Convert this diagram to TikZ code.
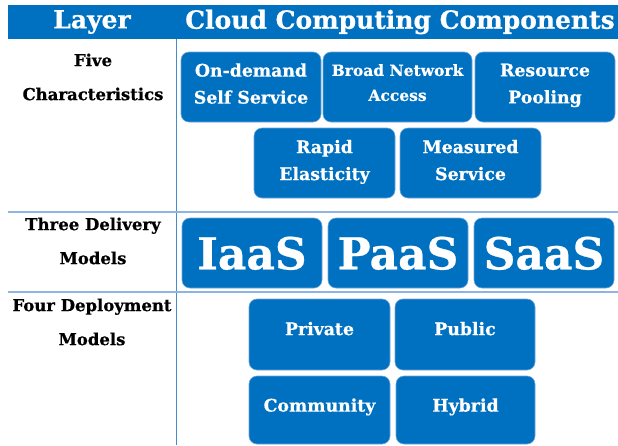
\documentclass[tikz,border=0pt]{standalone}
\usepackage{fontspec}
\setmainfont[BoldFeatures={FakeBold=0.6}]{DejaVu Serif}
\usepackage{tikz}
\usetikzlibrary{positioning}
\definecolor{cloudblue}{RGB}{0,112,192}
\definecolor{rimblue}{RGB}{110,165,220}
\definecolor{rowline}{RGB}{141,180,226}
\definecolor{colline}{RGB}{70,140,205}

\begin{document}
\begin{tikzpicture}[
x=1pt, y=-1pt,
font=\bfseries,
comp/.style={draw=rimblue,line width=0.6pt,fill=cloudblue,rounded corners=8pt,
  text=white,align=center,inner sep=0pt,minimum width=140pt,minimum height=70pt,
  text depth=6pt,font=\bfseries\fontsize{17.3}{27}\selectfont},
model/.style={comp,text depth=0pt,font=\bfseries\fontsize{44}{44}\selectfont},
layer/.style={align=center,font=\bfseries\fontsize{16.5}{34}\selectfont},
head/.style={text=white,font=\bfseries\fontsize{25}{25}\selectfont}]
    \useasboundingbox (0,0) rectangle (618,445);
    % Draw header bar
    \fill[cloudblue] (8,5) rectangle (618,39);
    \node[head] (layerhead) at (92,22) {Layer};
    \node[head] (comphead) at (400,22) {Cloud Computing Components};

    % Draw table rules
    \coordinate (colTop) at (176,39);
    \coordinate (colBot) at (176,445);
    \draw[colline,line width=1pt] (colTop) -- (colBot);
    \draw[rowline,line width=2pt] (8,212) -- (618,212);
    \draw[rowline,line width=2pt] (8,292) -- (618,292);

    % Layers
    \node[layer] (five) at (93,77) {Five\\Characteristics};
    \node[layer] (three) at (93,241) {Three Delivery\\Models};
    \node[layer] (four) at (92,322) {Four Deployment\\Models};

    % Five characteristics
    \node[comp,text depth=7pt] (ondemand) at (251,87) {On-demand\\Self Service};
    \node[comp,minimum width=149pt,text depth=9pt,
      font=\bfseries\fontsize{15.5}{25}\selectfont] (broad) at (397.5,87) {Broad Network\\Access};
    \node[comp,text depth=7pt] (pooling) at (545,87) {Resource\\Pooling};
    \node[comp,minimum width=141pt] (rapid) at (324.5,163) {Rapid\\Elasticity};
    \node[comp,minimum width=141pt] (measured) at (470.5,163) {Measured\\Service};

    % Three delivery models
    \node[model] (iaas) at (252,253) {IaaS};
    \node[model] (paas) at (398,253) {PaaS};
    \node[model] (saas) at (544,253) {SaaS};

    % Four deployment models
    \node[comp,minimum width=141pt,minimum height=71pt,text depth=12pt] (private) at (319.5,334.5) {Private};
    \node[comp,minimum height=71pt,text depth=12pt] (public) at (465,334.5) {Public};
    \node[comp,minimum width=141pt,minimum height=68pt,text depth=10pt] (community) at (319.5,410) {Community};
    \node[comp,minimum width=139pt,minimum height=68pt,text depth=10pt] (hybrid) at (465.5,410) {Hybrid};
\end{tikzpicture}
\end{document}
